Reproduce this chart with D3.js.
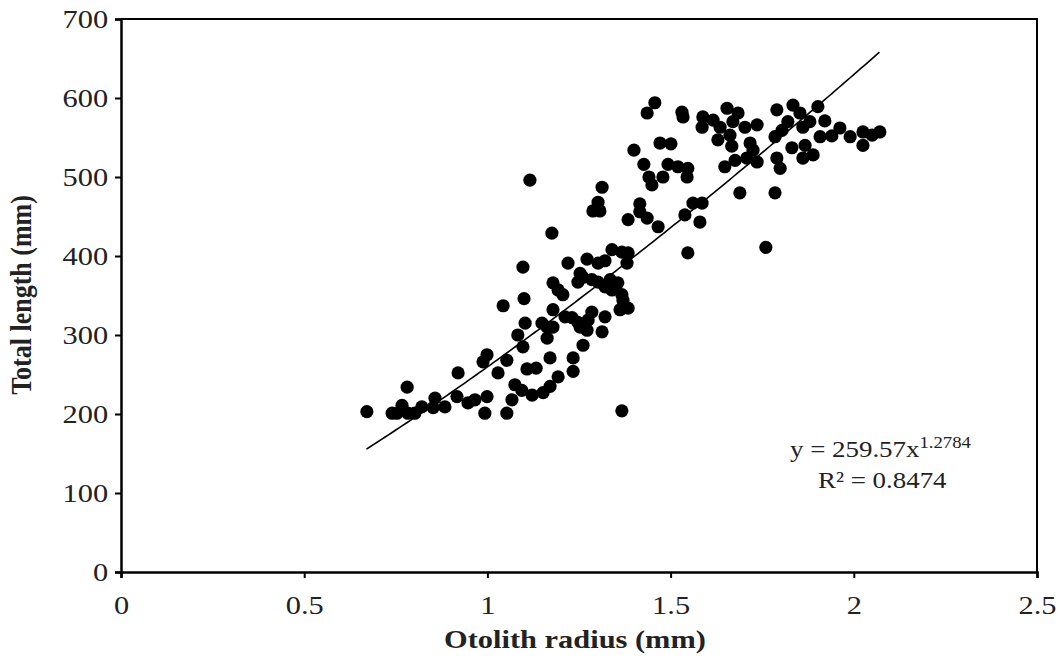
<!DOCTYPE html>
<html><head><meta charset="utf-8">
<script src="https://cdn.jsdelivr.net/npm/d3@7"></script>
<style>body{margin:0;background:#fff}svg{display:block}</style>
</head><body><svg id="c" width="1058" height="661"></svg>
<script>
// Otolith radius (mm)
const radius = [
0.671,0.740,0.753,0.767,0.783,0.781,0.802,0.821,0.852,0.857,0.884,0.917,0.920,0.947,0.966,0.993,0.999,0.988,0.999,1.029,
1.053,1.053,1.067,1.075,1.094,1.043,1.097,1.100,1.103,1.083,1.097,1.108,1.133,1.122,1.152,1.171,1.193,1.171,1.234,1.234,
1.163,1.163,1.179,1.212,1.179,1.193,1.206,1.220,1.272,1.176,1.116,1.149,1.179,1.231,1.247,1.253,1.275,1.285,1.272,1.321,
1.313,1.261,1.253,1.261,1.247,1.285,1.302,1.335,1.356,1.321,1.340,1.367,1.370,1.362,1.384,1.302,1.321,1.340,1.367,1.384,
1.381,1.547,1.367,
1.457,1.436,1.531,1.534,1.588,1.586,1.471,1.501,1.400,1.427,1.493,1.520,1.547,1.441,1.479,1.545,1.449,1.313,1.302,1.288,
1.307,1.416,1.416,1.436,1.384,1.466,1.539,1.561,1.586,1.580,
1.654,1.684,1.616,1.635,1.670,1.703,1.736,1.629,1.662,1.667,1.717,1.725,1.648,1.676,1.708,1.736,1.790,1.834,1.853,1.902,
1.820,1.804,1.785,1.861,1.880,1.921,1.908,1.940,1.962,1.990,2.025,2.025,2.050,2.071,1.831,1.867,1.861,1.889,1.790,1.799,
1.689,1.785,1.760
];
// Total length (mm)
const totalLength = [
203,201,201,211,201,234,201,209,208,220,209,222,252,214,218,201,222,266,275,252,
268,201,218,237,230,337,386,346,315,300,285,257,258,224,227,235,247,271,271,254,
296,310,332,323,366,357,351,391,396,429,496,315,310,322,316,310,319,329,306,323,
304,287,378,373,367,370,367,370,366,361,357,351,344,332,334,391,394,408,405,404,
391,404,204,
594,581,582,576,576,563,543,542,534,516,516,513,511,500,500,500,490,487,468,457,
457,466,456,448,446,437,452,467,467,443,
587,581,572,563,570,563,566,547,553,539,543,534,513,521,524,519,585,591,581,589,
570,559,551,563,570,571,551,552,562,551,557,540,553,557,537,540,524,528,524,511,
480,480,411
];
const xTicks = [0, 0.5, 1, 1.5, 2, 2.5];
const yTicks = [0, 100, 200, 300, 400, 500, 600, 700];
const fitCoef = 259.57, fitExp = 1.2784;
const fitRange = [0.67, 2.07];
const eqText = "y = 259.57x", eqExpText = "1.2784", r2Text = "R² = 0.8474";

const svg = d3.select("#c");
const L = 121, R = 1037, T = 19, B = 572;
const SX = 1.17; // horizontal text stretch of the original
const x = d3.scaleLinear().domain([0, 2.5]).range([L, R]);
const y = d3.scaleLinear().domain([0, 700]).range([B, T]);
const font = "'Liberation Serif','Times New Roman',serif";

// frame top/right
svg.append("path").attr("d", `M${L},${T}H${R}V${B}`).attr("fill","none").attr("stroke","#000").attr("stroke-width",2);

const xa = svg.append("g").attr("transform",`translate(0,${B})`)
  .call(d3.axisBottom(x).tickValues(xTicks).tickFormat(d3.format("~g")).tickSizeOuter(0).tickSize(6).tickPadding(18));
const ya = svg.append("g").attr("transform",`translate(${L},0)`)
  .call(d3.axisLeft(y).tickValues(yTicks).tickSizeOuter(0).tickSize(6).tickPadding(5));
[xa, ya].forEach(a => {
  a.select(".domain").attr("stroke","#000").attr("stroke-width",2.5);
  a.selectAll(".tick line").attr("stroke","#000").attr("stroke-width",2);
  a.selectAll(".tick text").attr("font-family",font).attr("font-size",26).attr("fill","#222")
    .attr("transform",`scale(${SX},1)`);
});

// points
svg.append("g").selectAll("circle").data(radius.map((r,i)=>[r,totalLength[i]])).join("circle")
  .attr("cx", d=>x(d[0])).attr("cy", d=>y(d[1])).attr("r", 6.6).attr("fill","#000");

// power trendline
const fx = d3.range(fitRange[0], fitRange[1] + 1e-9, 0.01);
svg.append("path").datum(fx.map(v=>[v, fitCoef*Math.pow(v, fitExp)]))
  .attr("d", d3.line().x(d=>x(d[0])).y(d=>y(d[1])))
  .attr("fill","none").attr("stroke","#000").attr("stroke-width",1.6);

// equation
const eq = svg.append("text").attr("transform",`translate(790,457) scale(${SX},1)`)
  .attr("font-family",font).attr("font-size",23).attr("fill","#222");
eq.append("tspan").text(eqText);
eq.append("tspan").attr("font-size",16).attr("dy",-9).text(eqExpText);
svg.append("text").attr("transform",`translate(818,488) scale(${SX},1)`)
  .attr("font-family",font).attr("font-size",23).attr("fill","#222").text(r2Text);

// axis titles
svg.append("text").attr("transform",`translate(575,648) scale(${SX},1)`).attr("text-anchor","middle")
  .attr("font-family",font).attr("font-weight","bold").attr("font-size",26).attr("fill","#222").text("Otolith radius (mm)");
svg.append("text").attr("transform",`translate(31,295) scale(${SX},1) rotate(-90)`).attr("text-anchor","middle")
  .attr("font-family",font).attr("font-weight","bold").attr("font-size",26).attr("fill","#222").text("Total length (mm)");
</script></body></html>
